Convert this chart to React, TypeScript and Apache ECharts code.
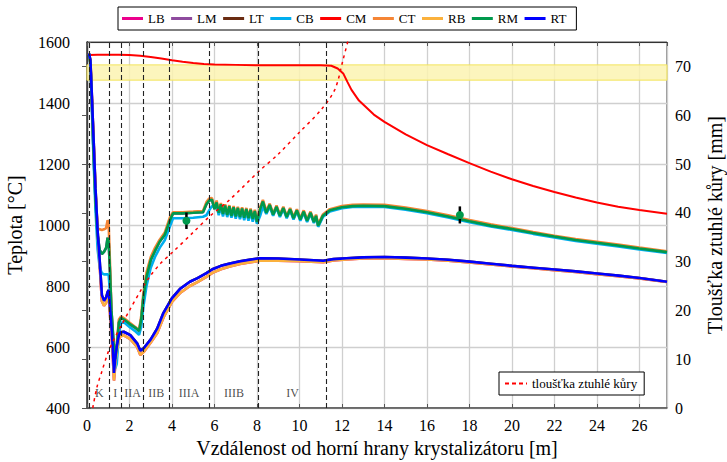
import { useEffect, useRef } from "react";
import * as echarts from "echarts";

const FONT = "Liberation Serif";

// Surface temperatures, wide faces and edges [m] -> [°C]
const distUpper = [
  0.10, 0.16, 0.22, 0.30, 0.40, 0.50, 0.60, 0.70, 0.80, 0.90, 0.97, 1.02, 1.08, 1.15, 1.25, 1.33, 1.40, 1.50, 1.60, 1.75,
  2.00, 2.30, 2.45, 2.55, 2.65, 2.80, 3.00, 3.20, 3.42, 3.66, 3.90, 4.05, 4.50, 5.00, 5.46, 5.62, 5.75, 5.88,
  6.00, 6.10, 6.20, 6.30, 6.40, 6.50, 6.60, 6.70, 6.80, 6.90, 7.00, 7.10, 7.20, 7.30, 7.40, 7.50, 7.60, 7.70, 7.80, 7.90, 8.00, 8.15, 8.28,
  8.44, 8.60, 8.76, 8.92, 9.08, 9.24, 9.40, 9.56, 9.72, 9.88, 10.04, 10.20, 10.36, 10.52, 10.68, 10.78, 10.88, 11.10, 11.43,
  12.00, 12.50, 13.00, 14.00, 15.00, 16.00, 17.00, 18.00, 19.00, 20.00, 21.00, 22.00, 23.00, 24.00, 25.00, 26.00, 27.30,
];
const tempRM = [
  1560, 1530, 1420, 1250, 1080, 965, 918, 905, 912, 925, 958, 945, 850, 720, 615, 560, 600, 680, 695, 690,
  676, 662, 652, 690, 760, 830, 885, 915, 945, 968, 1015, 1038, 1038, 1040, 1042, 1068, 1080, 1083,
  1052, 1074, 1040, 1068, 1036, 1064, 1033, 1061, 1030, 1058, 1028, 1056, 1026, 1054, 1024, 1052, 1022, 1050, 1020, 1046, 1010, 1052, 1077,
  1040, 1066, 1034, 1060, 1030, 1056, 1026, 1052, 1022, 1048, 1018, 1044, 1014, 1040, 1010, 1030, 998, 1030, 1048,
  1058, 1062, 1063, 1062, 1053, 1042, 1028, 1012, 998, 987, 974, 962, 951, 942, 933, 923, 911,
];
const tempCT = [
  1560, 1532, 1430, 1265, 1100, 990, 986, 984, 986, 990, 1016, 1000, 880, 720, 600, 560, 610, 690, 700, 694,
  680, 664, 655, 700, 775, 845, 895, 925, 952, 975, 1025, 1042, 1042, 1044, 1046, 1075, 1087, 1088,
  1058, 1080, 1046, 1072, 1041, 1068, 1038, 1065, 1035, 1062, 1032, 1060, 1030, 1058, 1028, 1056, 1026, 1054, 1024, 1050, 1014, 1058, 1082,
  1046, 1070, 1038, 1064, 1034, 1060, 1030, 1056, 1026, 1052, 1022, 1048, 1018, 1044, 1014, 1034, 1002, 1034, 1052,
  1062, 1066, 1067, 1066, 1057, 1046, 1032, 1016, 1002, 990, 977, 965, 954, 945, 936, 926, 914,
];
const tempCB = [
  1560, 1528, 1410, 1230, 1050, 920, 860, 842, 838, 838, 838, 836, 780, 680, 560, 530, 545, 640, 680, 680,
  666, 650, 640, 665, 730, 800, 860, 895, 925, 950, 995, 1022, 1022, 1024, 1027, 1032, 1048, 1062,
  1060, 1064, 1032, 1060, 1028, 1056, 1026, 1053, 1024, 1050, 1021, 1048, 1019, 1046, 1016, 1044, 1014, 1042, 1011, 1038, 1004, 1030, 1060,
  1036, 1060, 1030, 1056, 1026, 1052, 1022, 1048, 1018, 1044, 1014, 1040, 1010, 1036, 1006, 1026, 994, 1026, 1044,
  1055, 1059, 1060, 1059, 1050, 1039, 1025, 1009, 995, 984, 971, 959, 948, 939, 930, 920, 908,
];

// Corner temperatures [m] -> [°C]
const distLower = [
  0.10, 0.16, 0.22, 0.30, 0.40, 0.50, 0.60, 0.70, 0.80, 0.90, 0.97, 1.02, 1.10, 1.18, 1.27, 1.34, 1.41, 1.50, 1.57, 1.73,
  2.04, 2.36, 2.51, 2.67, 3.00, 3.30, 3.60, 4.00, 4.40, 4.84, 5.20, 5.62, 5.90, 6.30, 6.72, 7.20, 7.70, 8.14, 9.00, 10.00,
  11.12, 11.60, 12.22, 13.00, 14.00, 15.00, 16.00, 17.00, 18.00, 19.00, 20.00, 21.00, 22.00, 23.00, 24.00, 25.00, 26.00, 27.30,
];
const tempRT = [
  1562, 1540, 1440, 1300, 1120, 980, 880, 770, 752, 762, 780, 787, 710, 640, 515, 570, 605, 638, 648, 650,
  639, 612, 588, 596, 625, 660, 712, 760, 792, 814, 826, 842, 855, 866, 874, 881, 887, 891, 890, 887,
  883, 888, 891, 894, 895, 893, 890, 886, 880, 873, 866, 860, 854, 848, 841, 834, 826, 814,
];
const tempRB = [
  1560, 1535, 1430, 1290, 1110, 970, 865, 750, 735, 745, 765, 772, 690, 615, 490, 548, 588, 625, 635, 638,
  626, 600, 574, 584, 615, 645, 697, 748, 778, 800, 813, 830, 843, 855, 864, 872, 878, 883, 883, 881,
  878, 884, 887, 890, 891, 889, 887, 883, 877, 871, 864, 858, 852, 846, 839, 832, 825, 813,
];

// Core temperature [m] -> [°C]
const distCore = [
  0.10, 0.50, 1.00, 1.50, 2.00, 2.50, 3.00, 3.50, 4.00, 4.50, 5.00, 5.50, 6.00, 7.00, 8.00, 9.00, 10.00, 11.00, 11.50, 11.80,
  12.06, 12.25, 12.45, 12.80, 13.50, 14.00, 15.00, 16.00, 17.00, 18.00, 19.00, 20.00, 21.00, 22.00, 23.00, 24.00, 25.00, 26.00, 27.30,
];
const tempCM = [
  1557, 1558, 1558, 1558, 1557, 1555, 1551, 1546, 1540, 1535, 1531, 1528, 1526, 1525, 1524, 1524, 1524, 1524, 1522, 1513,
  1497, 1470, 1443, 1408, 1362, 1338, 1297, 1262, 1232, 1203, 1175, 1150, 1128, 1108, 1090, 1074, 1060, 1049, 1037,
];

// Solidified shell thickness [m] -> [mm]
const distShell = [0.27, 0.47, 0.70, 1.00, 1.30, 1.60, 2.00, 2.56, 3.00, 3.50, 4.00, 5.00, 5.78, 6.72, 8.14, 9.00, 10.00, 11.00, 11.67, 12.06, 12.30];
const shellThickness = [0, 4.3, 7.5, 11.5, 14.3, 16.8, 20.0, 24.3, 27.2, 29.8, 31.8, 36.0, 39.3, 42.7, 48.7, 52.0, 56.5, 61.0, 65.3, 71.5, 75.5];

// Cooling zones
const zoneBounds = [0.11, 1.04, 1.62, 2.66, 3.86, 5.76, 8.08, 11.28];
const zoneNames = ["K", "I", "IIA", "IIB", "IIIA", "IIIB", "IV"];

// Pyrometer measurements
const measDist = [4.68, 17.55];
const measTemp = [1014, 1033];
const measErr = [27, 28];

// Solidification interval band [°C]
const liquidusBand = [1475, 1525];

const legendNames = ["LB", "LM", "LT", "CB", "CM", "CT", "RB", "RM", "RT"];
const shellName = "tloušťka ztuhlé kůry";

const pairs = (xs: number[], ys: number[]) => xs.map((x, i) => [x, ys[i]]);

export default function App() {
  const ref = useRef<HTMLDivElement>(null);

  useEffect(() => {
    if (!ref.current) return;
    const chart = echarts.init(ref.current, undefined, { renderer: "svg" });

    const line = (name: string, xs: number[], ys: number[], color: string, width = 2.6, extra: any = {}) => ({
      name,
      type: "line",
      data: pairs(xs, ys),
      symbol: "none",
      lineStyle: { color, width },
      itemStyle: { color },
      ...extra,
    });

    const zoneMid = zoneNames.map((n, i) => ({
      name: n,
      value: [(zoneBounds[i] + zoneBounds[i + 1]) / 2, 450],
    }));

    const axisText = {
      fontFamily: FONT,
      fontSize: 16,
      color: "#000",
      formatter: (v: number) => String(v),
    };
    const nameText = { fontFamily: FONT, fontSize: 20, color: "#000" };
    const legendText = { fontFamily: FONT, fontSize: 13, color: "#000" };

    chart.setOption({
      animation: false,
      backgroundColor: "#fff",
      textStyle: { fontFamily: FONT },
      grid: {
        left: 87,
        right: 60,
        top: 42,
        bottom: 54,
        show: true,
        borderColor: "#333",
        borderWidth: 1,
        outerBoundsMode: "none",
      },
      legend: [
        {
          data: legendNames,
          left: 118,
          top: 7,
          icon: "rect",
          itemWidth: 21,
          itemHeight: 3,
          itemGap: 6.5,
          padding: [5, 10, 5, 4],
          borderColor: "#000",
          borderWidth: 1,
          backgroundColor: "#fff",
          textStyle: legendText,
        },
        {
          data: [shellName],
          left: 499,
          top: 372,
          itemWidth: 22,
          itemHeight: 10,
          itemStyle: { color: "rgba(0,0,0,0)", borderColor: "rgba(0,0,0,0)", borderWidth: 0 },
          lineStyle: { color: "#ff0000", width: 2, type: [4, 3] },
          padding: [5, 7, 5, 5],
          borderColor: "#000",
          borderWidth: 1,
          backgroundColor: "#fff",
          textStyle: legendText,
        },
      ],
      xAxis: [
        {
          type: "value",
          min: 0,
          max: 27.3,
          interval: 2,
          name: "Vzdálenost od horní hrany krystalizátoru [m]",
          nameLocation: "middle",
          nameGap: 28,
          nameTextStyle: nameText,
          axisLine: { lineStyle: { color: "#555", width: 1.5 } },
          axisTick: { inside: true, length: 4, lineStyle: { color: "#555" } },
          axisLabel: { ...axisText, margin: 9, showMaxLabel: false },
          splitLine: { show: true, lineStyle: { color: "#cfcfcf", width: 1.3 } },
        },
        {
          type: "value",
          position: "top",
          min: 0,
          max: 27.3,
          interval: 2,
          axisLine: { show: true, lineStyle: { color: "#333", width: 1 } },
          axisTick: { inside: true, length: 4, lineStyle: { color: "#555" } },
          axisLabel: { show: false },
          splitLine: { show: false },
        },
      ],
      yAxis: [
        {
          type: "value",
          min: 400,
          max: 1600,
          interval: 200,
          name: "Teplota [°C]",
          nameLocation: "middle",
          nameGap: 62,
          nameTextStyle: nameText,
          axisLine: { show: true, lineStyle: { color: "#000", width: 1.3 } },
          axisTick: { show: true, inside: true, length: 4, lineStyle: { color: "#555" } },
          axisLabel: { ...axisText, margin: 17 },
          splitLine: { show: true, lineStyle: { color: "#cfcfcf", width: 1.3 } },
        },
        {
          type: "value",
          min: 0,
          max: 75,
          interval: 10,
          position: "right",
          name: "Tloušťka ztuhlé kůry [mm]",
          nameLocation: "middle",
          nameGap: 38,
          nameTextStyle: nameText,
          axisLine: { show: true, lineStyle: { color: "#555", width: 1.5 } },
          axisTick: { show: true, inside: true, length: 5, lineStyle: { color: "#555" } },
          axisLabel: { ...axisText, margin: 8, showMaxLabel: false },
          splitLine: { show: false },
        },
      ],
      series: [
        line("LB", distLower, tempRB, "#ec008c"),
        line("LM", distUpper, tempRM, "#8e4b9e"),
        line("LT", distLower, tempRT, "#6a2c12"),
        line("CB", distUpper, tempCB, "#00aeef"),
        line("CM", distCore, tempCM, "#ff0000", 2, {
          markArea: {
            silent: true,
            itemStyle: { color: "rgba(252,243,178,0.85)", borderColor: "#f3e45a", borderWidth: 1 },
            data: [[{ yAxis: liquidusBand[0] }, { yAxis: liquidusBand[1] }]],
          },
        }),
        line("CT", distUpper, tempCT, "#f58535"),
        line("RB", distLower, tempRB, "#fbb13c"),
        line("RM", distUpper, tempRM, "#00994c"),
        line("RT", distLower, tempRT, "#0000ff"),
        {
          name: shellName,
          type: "line",
          yAxisIndex: 1,
          data: pairs(distShell, shellThickness),
          symbol: "none",
          smooth: 0.3,
          lineStyle: { color: "#ff0000", width: 1.5, type: [3, 4] },
          itemStyle: { color: "#ff0000" },
        },
        {
          name: "zones",
          type: "scatter",
          data: zoneMid,
          symbolSize: 1,
          itemStyle: { color: "rgba(0,0,0,0)" },
          silent: true,
          label: {
            show: true,
            formatter: (p: any) => p.name,
            position: "inside",
            fontFamily: FONT,
            fontSize: 12,
            color: "#222",
            textBorderWidth: 0,
          },
          markLine: {
            silent: true,
            symbol: "none",
            label: { show: false },
            lineStyle: { color: "#222", width: 1.1, type: [5, 3] },
            data: zoneBounds.map((b) => ({ xAxis: b })),
          },
        },
        {
          name: "meas",
          type: "custom",
          data: measDist.map((x, i) => [x, measTemp[i], measErr[i]]),
          z: 10,
          renderItem: (_params: any, api: any) => {
            const x = api.value(0);
            const t = api.value(1);
            const e = api.value(2);
            const c = api.coord([x, t]);
            const top = api.coord([x, t + e]);
            const bot = api.coord([x, t - e]);
            return {
              type: "group",
              children: [
                {
                  type: "line",
                  shape: { x1: top[0], y1: top[1], x2: bot[0], y2: bot[1] },
                  style: { stroke: "#000", lineWidth: 2.5 },
                },
                {
                  type: "circle",
                  shape: { cx: c[0], cy: c[1], r: 4 },
                  style: { fill: "#00994c" },
                },
              ],
            };
          },
        },
      ],
    });

    return () => chart.dispose();
  }, []);

  return (
    <div
      ref={ref}
      style={{ position: "fixed", left: 0, top: 0, width: 727, height: 462, background: "#fff" }}
    />
  );
}
